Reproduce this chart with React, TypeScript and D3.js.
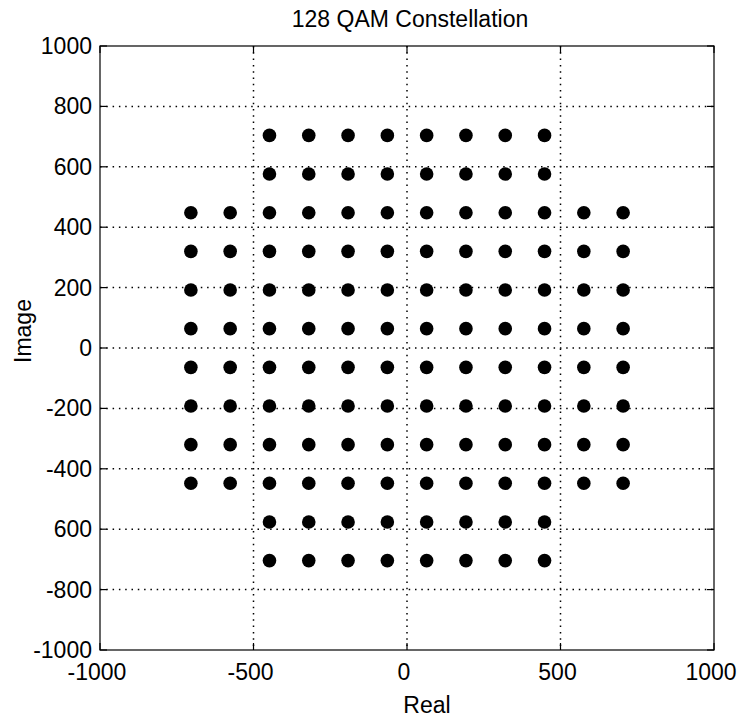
import React, { useRef, useEffect } from "react";
import * as d3 from "d3";

const title = "128 QAM Constellation";
const xLabel = "Real";
const yLabel = "Image";

const xTicks = [-1000, -500, 0, 500, 1000];
const xTickLabels = ["-1000", "-500", "0", "500", "1000"];
const yTicks = [1000, 800, 600, 400, 200, 0, -200, -400, -600, -800, -1000];
// the reference drops the minus sign on -600
const yTickLabels = ["1000", "800", "600", "400", "200", "0", "-200", "-400", "600", "-800", "-1000"];
const xGrid = [-500, 0, 500];
const yGrid = [800, 600, 400, 200, 0, -200, -400, -600, -800];

// 128-QAM cross constellation: 12 levels on the wide rows, 8 on the outer rows
const outerLevels = [-704, -576, -448, -320, -192, -64, 64, 192, 320, 448, 576, 704];
const innerLevels = [-448, -320, -192, -64, 64, 192, 320, 448];
const fullRows = [448, 320, 192, 64, -64, -192, -320, -448];
const edgeRows = [704, 576, -576, -704];

const W = 740;
const H = 720;
const font = "'Liberation Sans', Arial, sans-serif";

const App = () => {
  const svgRef = useRef<SVGSVGElement>(null);

  useEffect(() => {
    const svg = d3.select(svgRef.current);
    svg.selectAll("*").remove();

    const x = d3.scaleLinear().domain([-1000, 1000]).range([100, 714]);
    const y = d3.scaleLinear().domain([-1000, 1000]).range([650, 46]);

    const points: [number, number][] = [];
    fullRows.forEach(q => outerLevels.forEach(i => points.push([i, q])));
    edgeRows.forEach(q => innerLevels.forEach(i => points.push([i, q])));

    svg.append("rect").attr("width", W).attr("height", H).attr("fill", "#fff");

    // dotted grid
    const grid = svg.append("g").attr("stroke", "#000").attr("stroke-width", 1.5).attr("stroke-dasharray", "1.5,4.8");
    grid
      .selectAll(".gx")
      .data(xGrid)
      .join("line")
      .attr("x1", d => x(d))
      .attr("x2", d => x(d))
      .attr("y1", y(1000))
      .attr("y2", y(-1000));
    grid
      .selectAll(".gy")
      .data(yGrid)
      .join("line")
      .attr("y1", d => y(d))
      .attr("y2", d => y(d))
      .attr("x1", x(-1000))
      .attr("x2", x(1000));

    // constellation clusters
    svg
      .append("g")
      .selectAll("circle")
      .data(points)
      .join("circle")
      .attr("cx", d => x(d[0]))
      .attr("cy", d => y(d[1]))
      .attr("r", 6.8)
      .attr("fill", "#000");

    // box
    svg
      .append("rect")
      .attr("x", x(-1000))
      .attr("y", y(1000))
      .attr("width", x(1000) - x(-1000))
      .attr("height", y(-1000) - y(1000))
      .attr("fill", "none")
      .attr("stroke", "#000")
      .attr("stroke-width", 1.2);

    // inward ticks on all four sides
    const tl = 7;
    const ticks = svg.append("g").attr("stroke", "#000").attr("stroke-width", 1.2);
    xTicks.forEach(t => {
      ticks.append("line").attr("x1", x(t)).attr("x2", x(t)).attr("y1", y(-1000)).attr("y2", y(-1000) - tl);
      ticks.append("line").attr("x1", x(t)).attr("x2", x(t)).attr("y1", y(1000)).attr("y2", y(1000) + tl);
    });
    yTicks.forEach(t => {
      ticks.append("line").attr("y1", y(t)).attr("y2", y(t)).attr("x1", x(-1000)).attr("x2", x(-1000) + tl);
      ticks.append("line").attr("y1", y(t)).attr("y2", y(t)).attr("x1", x(1000)).attr("x2", x(1000) - tl);
    });

    const text = svg.append("g").attr("font-family", font).attr("font-size", 23).attr("fill", "#000");

    text
      .selectAll(".xl")
      .data(xTicks)
      .join("text")
      .attr("x", d => x(d) - 3)
      .attr("y", y(-1000) + 30)
      .attr("text-anchor", "middle")
      .text((d, i) => xTickLabels[i]);

    text
      .selectAll(".yl")
      .data(yTicks)
      .join("text")
      .attr("x", x(-1000) - 8)
      .attr("y", d => y(d) + 8)
      .attr("text-anchor", "end")
      .text((d, i) => yTickLabels[i]);

    text
      .append("text")
      .attr("x", 410)
      .attr("y", 27)
      .attr("text-anchor", "middle")
      .text(title);

    text
      .append("text")
      .attr("x", 427)
      .attr("y", 713)
      .attr("text-anchor", "middle")
      .text(xLabel);

    text
      .append("text")
      .attr("transform", "translate(31,331) rotate(-90)")
      .attr("text-anchor", "middle")
      .text(yLabel);
  }, []);

  return (
    <div style={{ position: "absolute", left: 0, top: 0 }}>
      <svg ref={svgRef} width={W} height={H} style={{ display: "block" }} />
    </div>
  );
};

export default App;
